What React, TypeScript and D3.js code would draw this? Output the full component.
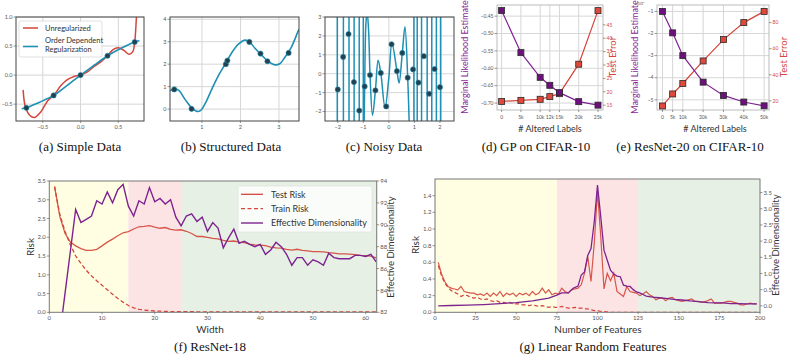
import React from "react";
import * as d3 from "d3";

// (a) Simple Data
const aPointX = [-0.717, -0.357, 0, 0.357, 0.717];
const aPointY = [-0.563, -0.35, 0, 0.333, 0.57];
const aUnregX = [-0.761, -0.73, -0.674, -0.61, -0.53, -0.435, -0.357, -0.26, -0.17, -0.087, 0, 0.087, 0.17, 0.26, 0.357, 0.43, 0.5, 0.57, 0.64, 0.69, 0.717, 0.74, 0.76];
const aUnregY = [-0.254, -0.55, -0.69, -0.73, -0.64, -0.44, -0.35, -0.18, -0.075, -0.023, 0, 0.05, 0.14, 0.22, 0.333, 0.44, 0.47, 0.43, 0.36, 0.4, 0.57, 1.0, 1.4];
const aOrderX = [-0.78, -0.717, -0.55, -0.357, -0.18, 0, 0.18, 0.357, 0.55, 0.717, 0.78];
const aOrderY = [-0.58, -0.563, -0.47, -0.35, -0.18, 0, 0.17, 0.333, 0.47, 0.57, 0.59];

// (b) Structured Data
const bPointX = [0.28, 0.73, 1.62, 1.66, 2.23, 2.52, 2.7, 3.25];
const bPointY = [0.875, 0.01, 2.0, 2.16, 2.99, 2.47, 2.13, 2.5];
const bCurveX = [0.17, 0.29, 0.4, 0.57, 0.74, 0.87, 0.96, 1.09, 1.26, 1.43, 1.62, 1.77, 1.94, 2.11, 2.23, 2.37, 2.54, 2.72, 2.89, 3.02, 3.15, 3.32, 3.49, 3.52];
const bCurveY = [0.81, 0.9, 0.83, 0.41, 0.04, -0.1, -0.07, 0.27, 0.9, 1.5, 2.05, 2.5, 2.88, 3.07, 3.0, 2.72, 2.42, 2.12, 1.97, 2.02, 2.3, 2.75, 3.44, 3.55];

// (c) Noisy Data
const cPointX = [-2, -1.789, -1.579, -1.368, -1.158, -0.947, -0.737, -0.526, -0.316, -0.105, 0.105, 0.316, 0.526, 0.737, 0.947, 1.158, 1.368, 1.579, 1.789, 2];
const cPointY = [-0.83, 0.89, 2.1, -0.44, -1.95, -0.67, -0.07, -0.88, 0.04, -1.73, 1.56, 0.14, 1.1, -0.21, 0.23, -0.47, 0.93, -1.06, 0.25, -0.71];
const cSpikeX = [-2.02, -1.78, -1.56, -1.36, -1.16, -1.0, 0.98, 1.11, 1.28, 1.5, 1.68, 1.86, 2.03];
const cCurveX = [-0.97, -0.947, -0.9, -0.85, -0.79, -0.737, -0.64, -0.526, -0.42, -0.316, -0.15, 0.0, 0.12, 0.316, 0.4, 0.526, 0.63, 0.737, 0.8];
const cCurveY = [-2.8, -0.67, 2.6, 3.3, 2.2, -0.07, -2.2, -0.88, 0.71, 0.04, -1.8, -0.2, 1.62, 0.14, -0.49, 1.1, 2.48, -0.21, -2.8];

// (d) GP on CIFAR-10
const dAltered = [0, 5, 10, 12.5, 15, 20, 25];
const dTickLabels = ["0", "5k", "10k", "12k", "15k", "20k", "25k"];
const dMarginal = [-0.434, -0.555, -0.626, -0.649, -0.67, -0.696, -0.706];
const dTestError = [16.4, 16.8, 17.2, 18.2, 19.3, 30.3, 50.3];
const dLeftTicks = [-0.45, -0.5, -0.55, -0.6, -0.65, -0.7];
const dRightTicks = [15, 20, 25, 30, 35, 40, 45];

// (e) ResNet-20 on CIFAR-10
const eAltered = [0, 5, 10, 20, 30, 40, 50];
const eTickLabels = ["0", "5k", "10k", "20k", "30k", "40k", "50k"];
const eMarginal = [-1.0, -1.97, -3.0, -4.2, -4.8, -5.1, -5.27];
const eTestError = [16.1, 25.3, 33.3, 50.6, 67, 80, 88.6];
const eLeftTicks = [-1, -2, -3, -4, -5];
const eRightTicks = [20, 40, 60, 80];

// (f) ResNet-18
const fTestRisk = [3.35, 2.55, 2.1, 1.87, 1.77, 1.7, 1.65, 1.65, 1.68, 1.77, 1.87, 1.95, 2.04, 2.12, 2.15, 2.22, 2.28, 2.29, 2.31, 2.27, 2.24, 2.26, 2.21, 2.19, 2.2, 2.16, 2.1, 2.02, 2.02, 2.0, 1.97, 1.96, 1.92, 1.89, 1.9, 1.87, 1.86, 1.82, 1.8, 1.79, 1.78, 1.74, 1.72, 1.71, 1.68, 1.66, 1.68, 1.65, 1.64, 1.62, 1.62, 1.61, 1.59, 1.58, 1.56, 1.56, 1.55, 1.54, 1.52, 1.51, 1.5, 1.45];
const fTrainRisk = [3.35, 2.6, 2.15, 1.8, 1.5, 1.3, 1.12, 0.97, 0.84, 0.72, 0.6, 0.48, 0.37, 0.27, 0.18, 0.12, 0.08, 0.06, 0.045, 0.035, 0.03, 0.025, 0.02, 0.018, 0.016, 0.015, 0.015, 0.014, 0.014, 0.013, 0.013, 0.012, 0.012, 0.012, 0.011, 0.011, 0.011, 0.01, 0.01, 0.01, 0.01, 0.01, 0.01, 0.01, 0.01, 0.01, 0.01, 0.01, 0.01, 0.01, 0.01, 0.01, 0.01, 0.01, 0.01, 0.01, 0.01, 0.01, 0.01, 0.01, 0.01, 0.01];
const fEffDim = [80, 83.8, 87.6, 91.4, 90.2, 90.5, 90.8, 92.2, 91.9, 93.0, 92.0, 93.2, 93.7, 91.7, 90.8, 92.2, 91.9, 93.4, 92.1, 92.4, 91.9, 92.3, 90.7, 89.9, 90.8, 91.0, 90.3, 90.7, 89.4, 90.2, 89.7, 87.9, 88.8, 89.6, 88.3, 88.5, 88.2, 88.0, 88.2, 87.3, 87.7, 88.4, 88.0, 87.3, 86.3, 87.0, 87.0, 86.3, 86.8, 86.6, 86.3, 87.4, 87.0, 86.9, 86.9, 86.9, 87.2, 87.2, 87.1, 87.3, 86.6];
const fLeftTicks = [0, 0.5, 1, 1.5, 2, 2.5, 3, 3.5];
const fRightTicks = [82, 84, 86, 88, 90, 92, 94];
const fXTicks = [0, 10, 20, 30, 40, 50, 60];

// (g) Linear Random Features
const gTestRisk = [0.6, 0.46, 0.37, 0.31, 0.29, 0.28, 0.27, 0.31, 0.25, 0.24, 0.23, 0.23, 0.21, 0.22, 0.2, 0.23, 0.19, 0.23, 0.2, 0.25, 0.19, 0.23, 0.21, 0.23, 0.19, 0.23, 0.21, 0.23, 0.2, 0.25, 0.21, 0.23, 0.29, 0.23, 0.27, 0.21, 0.23, 0.22, 0.29, 0.25, 0.23, 0.27, 0.28, 0.29, 0.33, 0.47, 0.67, 0.37, 0.83, 1.45, 0.91, 0.28, 0.47, 0.38, 0.47, 0.25, 0.22, 0.19, 0.31, 0.25, 0.24, 0.23, 0.2, 0.22, 0.25, 0.21, 0.19, 0.15, 0.17, 0.17, 0.14, 0.17, 0.18, 0.15, 0.14, 0.13, 0.14, 0.15, 0.16, 0.13, 0.13, 0.12, 0.13, 0.14, 0.16, 0.11, 0.11, 0.11, 0.12, 0.13, 0.13, 0.12, 0.11, 0.09, 0.09, 0.1, 0.11, 0.1, 0.1];
const gTrainX = [2, 4, 6, 8, 10, 12, 14, 16, 18, 20, 22, 24, 26, 28, 30, 32, 34, 36, 38, 40, 42, 44, 46, 48, 50, 52, 54, 56, 58, 60, 62, 64, 66, 68, 70, 72, 74, 76, 78, 80, 82, 84, 86, 88, 90, 92, 94, 96, 98, 100, 102, 104, 106, 108, 198];
const gTrainRisk = [0.56, 0.44, 0.35, 0.3, 0.26, 0.24, 0.22, 0.19, 0.21, 0.2, 0.18, 0.17, 0.18, 0.16, 0.15, 0.16, 0.14, 0.13, 0.14, 0.12, 0.12, 0.11, 0.12, 0.1, 0.1, 0.1, 0.09, 0.09, 0.08, 0.09, 0.08, 0.07, 0.08, 0.07, 0.06, 0.07, 0.06, 0.06, 0.07, 0.06, 0.05, 0.05, 0.06, 0.05, 0.05, 0.04, 0.04, 0.03, 0.02, 0.02, 0.01, 0.01, 0.005, 0, 0];
const gEffX = [2, 10, 20, 30, 40, 50, 60, 70, 75, 78, 82, 85, 88, 90, 92, 94, 96, 98, 100, 102, 104, 106, 108, 110, 112, 114, 116, 118, 120, 122, 124, 126, 128, 130, 134, 138, 142, 147, 152, 157, 162, 168, 172, 177, 182, 187, 192, 198];
const gEffDim = [0.0, 0.01, 0.02, 0.04, 0.07, 0.1, 0.15, 0.24, 0.33, 0.4, 0.4, 0.54, 0.61, 0.95, 1.05, 1.56, 1.77, 2.6, 3.73, 2.75, 1.72, 1.41, 1.1, 0.98, 0.92, 0.9, 0.64, 0.61, 0.6, 0.5, 0.43, 0.4, 0.35, 0.3, 0.27, 0.25, 0.23, 0.2, 0.18, 0.15, 0.13, 0.1, 0.09, 0.09, 0.07, 0.07, 0.06, 0.06];
const gLeftTicks = [0, 0.2, 0.4, 0.6, 0.8, 1.0, 1.2, 1.4];
const gRightTicks = [0, 0.5, 1, 1.5, 2, 2.5, 3, 3.5];
const gXTicks = [0, 25, 50, 75, 100, 125, 150, 175, 200];

const SANS = "Lato, 'DejaVu Sans', sans-serif";
const SERIF = "'Liberation Serif', 'Times New Roman', serif";
const RED = "#d4453b";
const BLUE = "#1f8fb4";
const PURPLE = "#7d2390";
const GRID = "#d6d6d6";
const TICK = "#555";

type Lin = d3.ScaleLinear<number, number>;
const minus = (s: string) => s.replace("-", "\u2212");

function XAxis({ s, y, ticks, labels, size = 6, pad = 4 }: { s: Lin; y: number; ticks: number[]; labels: string[]; size?: number; pad?: number }) {
  return (
    <g>
      {ticks.map((t, i) => (
        <g key={i}>
          <line x1={s(t)} x2={s(t)} y1={y} y2={y + 2} stroke={TICK} strokeWidth={0.6} />
          <text x={s(t)} y={y + pad + size * 0.8} fontSize={size} textAnchor="middle" fill={TICK} fontFamily={SANS}>{labels[i]}</text>
        </g>
      ))}
    </g>
  );
}

function YAxis({ s, x, ticks, labels, side = "left", size = 6, color = TICK }: { s: Lin; x: number; ticks: number[]; labels: string[]; side?: string; size?: number; color?: string }) {
  const dir = side === "left" ? -1 : 1;
  return (
    <g>
      {ticks.map((t, i) => (
        <g key={i}>
          <line x1={x} x2={x + dir * 2.5} y1={s(t)} y2={s(t)} stroke={TICK} strokeWidth={0.6} />
          <text x={x + dir * 3.5} y={s(t) + size * 0.35} fontSize={size} textAnchor={side === "left" ? "end" : "start"} fill={color} fontFamily={SANS}>{labels[i]}</text>
        </g>
      ))}
    </g>
  );
}

function Grid({ sx, sy, xt, yt }: { sx: Lin; sy: Lin; xt: number[]; yt: number[] }) {
  const [x0, x1] = sx.range();
  const [y1, y0] = sy.range();
  return (
    <g stroke={GRID} strokeWidth={1}>
      {xt.map((t, i) => <line key={"x" + i} x1={sx(t)} x2={sx(t)} y1={y0} y2={y1} />)}
      {yt.map((t, i) => <line key={"y" + i} x1={x0} x2={x1} y1={sy(t)} y2={sy(t)} />)}
    </g>
  );
}

function Frame({ sx, sy, stroke = "#444" }: { sx: Lin; sy: Lin; stroke?: string }) {
  const [x0, x1] = sx.range();
  const [y1, y0] = sy.range();
  return <rect x={x0} y={y0} width={x1 - x0} height={y1 - y0} fill="none" stroke={stroke} strokeWidth={1} />;
}

function Clip({ id, sx, sy }: { id: string; sx: Lin; sy: Lin }) {
  const [x0, x1] = sx.range();
  const [y1, y0] = sy.range();
  return <clipPath id={id}><rect x={x0} y={y0} width={x1 - x0} height={y1 - y0} /></clipPath>;
}

const pathOf = (sx: Lin, sy: Lin, xs: number[], ys: number[], curve: d3.CurveFactory = d3.curveLinear) =>
  d3.line<[number, number]>().x((d) => sx(d[0])).y((d) => sy(d[1])).curve(curve)(d3.zip(xs, ys) as [number, number][]) || "";

const smooth = d3.curveCatmullRom.alpha(0.5);

function PanelA() {
  const sx = d3.scaleLinear().domain([-0.855, 0.84]).range([16, 144]);
  const sy = d3.scaleLinear().domain([-0.79, 1.0]).range([121, 17]);
  const xt = [-0.5, 0, 0.5];
  const yt = [-0.5, 0, 0.5, 1.0];
  return (
    <g>
      <Clip id="clipA" sx={sx} sy={sy} />
      <Grid sx={sx} sy={sy} xt={xt} yt={yt} />
      <g clipPath="url(#clipA)">
        <path d={pathOf(sx, sy, aUnregX, aUnregY, smooth)} fill="none" stroke={RED} strokeWidth={1.5} />
        <path d={pathOf(sx, sy, aOrderX, aOrderY, smooth)} fill="none" stroke={BLUE} strokeWidth={1.6} />
        {aPointX.map((x, i) => <circle key={i} cx={sx(x)} cy={sy(aPointY[i])} r={2.6} fill="#23404c" stroke={BLUE} strokeWidth={0.6} />)}
      </g>
      <Frame sx={sx} sy={sy} />
      <XAxis s={sx} y={121} ticks={xt} labels={["-0.5", "0.0", "0.5"].map(minus)} size={5.5} />
      <YAxis s={sy} x={16} ticks={yt} labels={["-0.5", "0.0", "0.5", "1.0"].map(minus)} size={5.5} />
      <rect x={19} y={21} width={83} height={36} rx={2} fill="white" fillOpacity={0.85} stroke="#ccc" strokeWidth={0.6} />
      <line x1={23} x2={38} y1={28} y2={28} stroke={RED} strokeWidth={1.5} />
      <text x={45} y={30.5} fontSize={7.5} fontFamily={SANS} fill="#333">Unregularized</text>
      <line x1={23} x2={38} y1={46.5} y2={46.5} stroke={BLUE} strokeWidth={1.6} />
      <text x={45} y={43} fontSize={7.5} fontFamily={SANS} fill="#333">Order Dependent</text>
      <text x={45} y={52} fontSize={7.5} fontFamily={SANS} fill="#333">Regularization</text>
    </g>
  );
}

function PanelB() {
  const sx = d3.scaleLinear().domain([0.17, 3.52]).range([170, 299]);
  const sy = d3.scaleLinear().domain([-0.53, 4.1]).range([121, 17]);
  const xt = [1, 2, 3];
  const yt = [0, 1, 2, 3, 4];
  return (
    <g>
      <Clip id="clipB" sx={sx} sy={sy} />
      <Grid sx={sx} sy={sy} xt={xt} yt={yt} />
      <g clipPath="url(#clipB)">
        <path d={pathOf(sx, sy, bCurveX, bCurveY, smooth)} fill="none" stroke={BLUE} strokeWidth={1.6} />
        {bPointX.map((x, i) => <circle key={i} cx={sx(x)} cy={sy(bPointY[i])} r={2.6} fill="#23404c" stroke={BLUE} strokeWidth={0.6} />)}
      </g>
      <Frame sx={sx} sy={sy} />
      <XAxis s={sx} y={121} ticks={xt} labels={["1", "2", "3"]} size={5.5} />
      <YAxis s={sy} x={170} ticks={yt} labels={["0", "1", "2", "3", "4"]} size={5.5} />
    </g>
  );
}

function PanelC() {
  const sx = d3.scaleLinear().domain([-2.5, 2.55]).range([325, 454]);
  const sy = d3.scaleLinear().domain([-2.5, 3.0]).range([121, 17]);
  const xt = [-2, -1, 0, 1, 2];
  const yt = [-2, -1, 0, 1, 2, 3];
  return (
    <g>
      <Clip id="clipC" sx={sx} sy={sy} />
      <Grid sx={sx} sy={sy} xt={xt} yt={yt} />
      <g clipPath="url(#clipC)">
        {cSpikeX.map((x, i) => <line key={i} x1={sx(x)} x2={sx(x)} y1={17} y2={121} stroke={BLUE} strokeWidth={1.5} />)}
        <path d={pathOf(sx, sy, cCurveX, cCurveY, smooth)} fill="none" stroke={BLUE} strokeWidth={1.5} />
        {cPointX.map((x, i) => <circle key={i} cx={sx(x)} cy={sy(cPointY[i])} r={2.6} fill="#23404c" stroke={BLUE} strokeWidth={0.6} />)}
      </g>
      <Frame sx={sx} sy={sy} />
      <XAxis s={sx} y={121} ticks={xt} labels={["-2", "-1", "0", "1", "2"].map(minus)} size={5.5} />
      <YAxis s={sy} x={325} ticks={yt} labels={["-2", "-1", "0", "1", "2", "3"].map(minus)} size={5.5} />
    </g>
  );
}

function Square({ x, y, fill }: { x: number; y: number; fill: string }) {
  return <rect x={x - 3} y={y - 3} width={6} height={6} fill={fill} stroke="#2a2a2a" strokeWidth={0.8} />;
}

function AlteredPanel({ id, x0, x1, xDom, lDom, rDom, alt, tickLabels, marginal, testErr, lTicks, lLabels, rTicks, lblX, rLblX, xLblX, mult }: any) {
  const sx = d3.scaleLinear().domain(xDom).range([x0, x1]);
  const sl = d3.scaleLinear().domain(lDom).range([110, 5]);
  const sr = d3.scaleLinear().domain(rDom).range([110, 5]);
  const midY = 57;
  return (
    <g>
      <Clip id={id} sx={sx} sy={sl} />
      <Grid sx={sx} sy={sl} xt={alt} yt={lTicks} />
      <Frame sx={sx} sy={sl} stroke="#bbb" />
      <g clipPath={`url(#${id})`}>
        <path d={pathOf(sx, sr, alt, testErr)} fill="none" stroke={RED} strokeWidth={1.2} />
        <path d={pathOf(sx, sl, alt, marginal)} fill="none" stroke={PURPLE} strokeWidth={1.2} />
      </g>
      {alt.map((a: number, i: number) => <Square key={"r" + i} x={sx(a)} y={sr(testErr[i])} fill="#e0483c" />)}
      {alt.map((a: number, i: number) => <Square key={"p" + i} x={sx(a)} y={sl(marginal[i])} fill="#6e0f7e" />)}
      <XAxis s={sx} y={110} ticks={alt} labels={tickLabels} size={5} pad={5} />
      <YAxis s={sl} x={x0} ticks={lTicks} labels={lLabels} size={5} />
      <YAxis s={sr} x={x1} ticks={rTicks} labels={rTicks.map(String)} side="right" size={5} color={RED} />
      {mult && <text x={x0 - 22} y={5} fontSize={4.5} fill={TICK} fontFamily={SANS}>{mult}</text>}
      <text transform={`translate(${lblX},${midY}) rotate(-90)`} textAnchor="middle" fontSize={9} fill="#8a1f96" fontFamily={SANS}>Marginal Likelihood Estimate</text>
      <text transform={`translate(${rLblX},${midY}) rotate(-90)`} textAnchor="middle" fontSize={9.5} fill={RED} fontFamily={SANS}>Test Error</text>
      <text x={xLblX} y={132} textAnchor="middle" fontSize={9} fill="#333" fontFamily={SANS}># Altered Labels</text>
    </g>
  );
}

function PanelF() {
  const sx = d3.scaleLinear().domain([0, 62.1]).range([49.3, 376.7]);
  const sy = d3.scaleLinear().domain([0, 3.5]).range([312.3, 181]);
  const sr = d3.scaleLinear().domain([82, 94]).range([312.3, 181]);
  const widths = d3.range(1, 63);
  const edWidths = d3.range(2, 63);
  return (
    <g>
      <Clip id="clipF" sx={sx} sy={sy} />
      <rect x={sx(0)} y={181} width={sx(15) - sx(0)} height={131.3} fill="#fffee2" />
      <rect x={sx(15)} y={181} width={sx(25) - sx(15)} height={131.3} fill="#fde4e4" />
      <rect x={sx(25)} y={181} width={sx(62.1) - sx(25)} height={131.3} fill="#e7f0e4" />
      <g clipPath="url(#clipF)">
        <path d={pathOf(sx, sy, widths, fTrainRisk)} fill="none" stroke={RED} strokeWidth={1.3} strokeDasharray="4 2.5" />
        <path d={pathOf(sx, sy, widths, fTestRisk)} fill="none" stroke={RED} strokeWidth={1.3} opacity={0.9} />
        <path d={pathOf(sx, sr, edWidths, fEffDim)} fill="none" stroke={PURPLE} strokeWidth={1.4} />
      </g>
      <Frame sx={sx} sy={sy} stroke="#777" />
      <XAxis s={sx} y={312.3} ticks={fXTicks} labels={fXTicks.map(String)} size={6} pad={3} />
      <YAxis s={sy} x={49.3} ticks={fLeftTicks} labels={fLeftTicks.map((v) => v.toFixed(1))} size={6} />
      <YAxis s={sr} x={376.7} ticks={fRightTicks} labels={fRightTicks.map(String)} side="right" size={6} />
      <text transform="translate(34,247) rotate(-90)" textAnchor="middle" fontSize={10} fill="#333" fontFamily={SANS}>Risk</text>
      <text x={210} y={333} textAnchor="middle" fontSize={10} fill="#333" fontFamily={SANS}>Width</text>
      <text transform="translate(394,247) rotate(-90)" textAnchor="middle" fontSize={9.5} fill="#333" fontFamily={SANS}>Effective Dimensionality</text>
      <rect x={238} y={186} width={134} height={46} rx={2} fill="white" fillOpacity={0.8} stroke="#ddd" strokeWidth={0.6} />
      <line x1={241} x2={263} y1={194.3} y2={194.3} stroke={RED} strokeWidth={1.3} />
      <text x={271} y={197.5} fontSize={9} fill="#333" fontFamily={SANS}>Test Risk</text>
      <line x1={241} x2={263} y1={208.6} y2={208.6} stroke={RED} strokeWidth={1.3} strokeDasharray="4 2.5" />
      <text x={271} y={211.8} fontSize={9} fill="#333" fontFamily={SANS}>Train Risk</text>
      <line x1={241} x2={263} y1={223} y2={223} stroke={PURPLE} strokeWidth={1.4} />
      <text x={271} y={226.2} fontSize={9} fill="#333" fontFamily={SANS}>Effective Dimensionality</text>
    </g>
  );
}

function PanelG() {
  const sx = d3.scaleLinear().domain([0, 200]).range([435, 760]);
  const sy = d3.scaleLinear().domain([0, 1.6]).range([312.3, 179]);
  const sr = d3.scaleLinear().domain([-0.2, 3.92]).range([312.3, 179]);
  const feats = d3.range(2, 200, 2);
  return (
    <g>
      <Clip id="clipG" sx={sx} sy={sy} />
      <rect x={sx(0)} y={179} width={sx(75) - sx(0)} height={133.3} fill="#fffee2" />
      <rect x={sx(75)} y={179} width={sx(125) - sx(75)} height={133.3} fill="#fde4e4" />
      <rect x={sx(125)} y={179} width={sx(200) - sx(125)} height={133.3} fill="#e7f0e4" />
      <g clipPath="url(#clipG)">
        <path d={pathOf(sx, sy, gTrainX, gTrainRisk)} fill="none" stroke={RED} strokeWidth={1.2} strokeDasharray="4 2.5" />
        <path d={pathOf(sx, sy, feats, gTestRisk)} fill="none" stroke={RED} strokeWidth={1.2} opacity={0.9} />
        <path d={pathOf(sx, sr, gEffX, gEffDim)} fill="none" stroke={PURPLE} strokeWidth={1.3} />
      </g>
      <Frame sx={sx} sy={sy} stroke="#777" />
      <XAxis s={sx} y={312.3} ticks={gXTicks} labels={gXTicks.map(String)} size={6} pad={3} />
      <YAxis s={sy} x={435} ticks={gLeftTicks} labels={gLeftTicks.map((v) => v.toFixed(1))} size={6} />
      <YAxis s={sr} x={760} ticks={gRightTicks} labels={gRightTicks.map((v) => v.toFixed(1))} side="right" size={6} />
      <text transform="translate(419,245) rotate(-90)" textAnchor="middle" fontSize={10} fill="#333" fontFamily={SANS}>Risk</text>
      <text x={598} y={333} textAnchor="middle" fontSize={10} fill="#333" fontFamily={SANS}>Number of Features</text>
      <text transform="translate(779,245) rotate(-90)" textAnchor="middle" fontSize={9.5} fill="#333" fontFamily={SANS}>Effective Dimensionality</text>
    </g>
  );
}

export default function App() {
  return (
    <svg width={800} height={360} style={{ position: "absolute", left: 0, top: 0, background: "white" }}>
      <PanelA />
      <PanelB />
      <PanelC />
      <AlteredPanel id="clipD" x0={497} x1={603} xDom={[-1.2, 26.3]} lDom={[-0.72, -0.418]} rDom={[13.2, 52.4]}
        alt={dAltered} tickLabels={dTickLabels} marginal={dMarginal} testErr={dTestError}
        lTicks={dLeftTicks} lLabels={dLeftTicks.map((v) => minus(v.toFixed(2)))} rTicks={dRightTicks}
        lblX={468} rLblX={616} xLblX={550} />
      <AlteredPanel id="clipE" x0={657} x1={769} xDom={[-2.7, 52.4]} lDom={[-5.46, -0.71]} rDom={[13, 93.5]}
        alt={eAltered} tickLabels={eTickLabels} marginal={eMarginal} testErr={eTestError}
        lTicks={eLeftTicks} lLabels={eLeftTicks.map((v) => minus(String(v)))} rTicks={eRightTicks}
        lblX={638} rLblX={787} xLblX={715} mult={"\u00d710\u2077"} />
      <PanelF />
      <PanelG />
      <g fontFamily={SERIF} fontSize={13} fill="#111" textAnchor="middle">
        <text x={80} y={151}>(a) Simple Data</text>
        <text x={231} y={151}>(b) Structured Data</text>
        <text x={384} y={151}>(c) Noisy Data</text>
        <text x={536} y={151}>(d) GP on CIFAR-10</text>
        <text x={690} y={151}>(e) ResNet-20 on CIFAR-10</text>
        <text x={210} y={351}>(f) ResNet-18</text>
        <text x={593} y={351}>(g) Linear Random Features</text>
      </g>
    </svg>
  );
}
